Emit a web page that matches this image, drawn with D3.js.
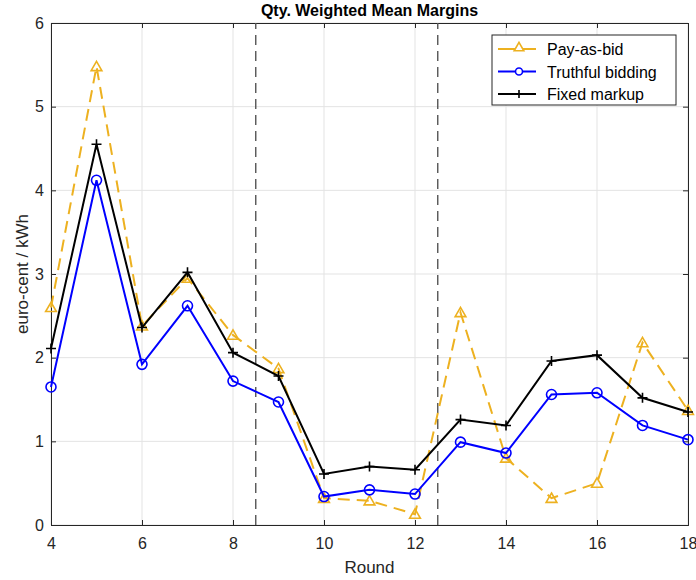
<!DOCTYPE html>
<html>
<head>
<meta charset="utf-8">
<script src="https://cdn.jsdelivr.net/npm/d3@7"></script>
<style>
  body { margin: 0; background: #fff; }
  svg { font-family: "Liberation Sans", Arial, sans-serif; }
</style>
</head>
<body>
<div id="chart"></div>
<script>
// data
var rounds = [4, 5, 6, 7, 8, 9, 10, 11, 12, 13, 14, 15, 16, 17, 18];
var payAsBid = [2.6, 5.48, 2.38, 2.95, 2.27, 1.87, 0.32, 0.29, 0.13, 2.54, 0.8, 0.32, 0.5, 2.18, 1.37];
var truthful = [1.65, 4.12, 1.92, 2.62, 1.72, 1.47, 0.34, 0.42, 0.37, 0.99, 0.86, 1.56, 1.58, 1.19, 1.02];
var fixedMarkup = [2.11, 4.55, 2.36, 3.02, 2.06, 1.78, 0.61, 0.70, 0.66, 1.26, 1.19, 1.96, 2.03, 1.52, 1.35];
var seriesNames = ["Pay-as-bid", "Truthful bidding", "Fixed markup"];
var xTicks = [4, 6, 8, 10, 12, 14, 16, 18];
var yTicks = [0, 1, 2, 3, 4, 5, 6];
var phaseBreaks = [8.5, 12.5];

var w = 696, h = 580;
var margin = { top: 23, right: 8, bottom: 55, left: 51 };

var svg = d3.select("#chart").append("svg")
  .attr("width", w)
  .attr("height", h);

var x = d3.scaleLinear().domain([4, 18]).range([margin.left, w - margin.right]);
var y = d3.scaleLinear().domain([0, 6]).range([h - margin.bottom, margin.top]);

var axisColor = "#262626";

// grid
svg.append("g").selectAll("line.gx")
  .data(xTicks).enter().append("line")
  .attr("x1", function (d) { return x(d); })
  .attr("x2", function (d) { return x(d); })
  .attr("y1", y(0)).attr("y2", y(6))
  .style("stroke", "#e3e3e3").style("stroke-width", 1);
svg.append("g").selectAll("line.gy")
  .data(yTicks).enter().append("line")
  .attr("y1", function (d) { return y(d); })
  .attr("y2", function (d) { return y(d); })
  .attr("x1", x(4)).attr("x2", x(18))
  .style("stroke", "#e3e3e3").style("stroke-width", 1);

// axes
var xAxis = svg.append("g")
  .attr("transform", "translate(0," + y(0) + ")")
  .call(d3.axisBottom(x).tickValues(xTicks).tickSize(-5).tickPadding(13).tickFormat(d3.format("d")));
var xTop = svg.append("g")
  .attr("transform", "translate(0," + y(6) + ")")
  .call(d3.axisTop(x).tickValues(xTicks).tickSize(-5).tickFormat(""));
var yAxis = svg.append("g")
  .attr("transform", "translate(" + x(4) + ",0)")
  .call(d3.axisLeft(y).tickValues(yTicks).tickSize(-5).tickPadding(7).tickFormat(d3.format("d")));
var yRight = svg.append("g")
  .attr("transform", "translate(" + x(18) + ",0)")
  .call(d3.axisRight(y).tickValues(yTicks).tickSize(-5).tickFormat(""));

[xAxis, xTop, yAxis, yRight].forEach(function (g) {
  g.select(".domain").style("stroke", axisColor).style("stroke-width", 1);
  g.selectAll(".tick line").style("stroke", axisColor);
  g.selectAll("text").style("font-size", "16px").style("fill", axisColor)
    .style("font-family", "Liberation Sans, Arial, sans-serif");
});

// phase separators
svg.append("g").selectAll("line")
  .data(phaseBreaks).enter().append("line")
  .attr("x1", function (d) { return x(d); })
  .attr("x2", function (d) { return x(d); })
  .attr("y1", y(0)).attr("y2", y(6))
  .style("stroke", "#555555")
  .style("stroke-width", 1.4)
  .style("stroke-dasharray", "10,6");

var line = d3.line()
  .x(function (d) { return x(d[0]); })
  .y(function (d) { return y(d[1]); });

function zip(vals) {
  return rounds.map(function (r, i) { return [r, vals[i]]; });
}

var orange = "#EDB120";

// Pay-as-bid
svg.append("path")
  .datum(zip(payAsBid))
  .attr("d", line)
  .style("fill", "none").style("stroke", orange)
  .style("stroke-width", 2).style("stroke-dasharray", "12,7");
var tri = d3.symbol().type(d3.symbolTriangle).size(50);
svg.append("g").selectAll("path")
  .data(zip(payAsBid)).enter().append("path")
  .attr("d", tri)
  .attr("transform", function (d) { return "translate(" + x(d[0]) + "," + (y(d[1]) + 1) + ")"; })
  .style("fill", "none").style("stroke", orange).style("stroke-width", 1.6);

// Truthful bidding
svg.append("path")
  .datum(zip(truthful))
  .attr("d", line)
  .style("fill", "none").style("stroke", "#0000ff").style("stroke-width", 2);
svg.append("g").selectAll("circle")
  .data(zip(truthful)).enter().append("circle")
  .attr("cx", function (d) { return x(d[0]); })
  .attr("cy", function (d) { return y(d[1]); })
  .attr("r", 5)
  .style("fill", "none").style("stroke", "#0000ff").style("stroke-width", 1.6);

// Fixed markup
svg.append("path")
  .datum(zip(fixedMarkup))
  .attr("d", line)
  .style("fill", "none").style("stroke", "#000").style("stroke-width", 2);
svg.append("g").selectAll("path")
  .data(zip(fixedMarkup)).enter().append("path")
  .attr("d", "M-5,0H5M0,-5V5")
  .attr("transform", function (d) { return "translate(" + x(d[0]) + "," + y(d[1]) + ")"; })
  .style("fill", "none").style("stroke", "#000").style("stroke-width", 1.6);

// title and labels
svg.append("text")
  .attr("x", (x(4) + x(18)) / 2).attr("y", 16)
  .style("text-anchor", "middle").style("font-weight", "bold")
  .style("font-size", "16px").style("fill", "#000")
  .text("Qty. Weighted Mean Margins");
svg.append("text")
  .attr("x", (x(4) + x(18)) / 2).attr("y", 573)
  .style("text-anchor", "middle").style("font-size", "17px").style("fill", axisColor)
  .text("Round");
svg.append("text")
  .attr("transform", "translate(28," + y(3) + ") rotate(-90)")
  .style("text-anchor", "middle").style("font-size", "17px").style("fill", axisColor)
  .text("euro-cent / kWh");

// legend
var lg = svg.append("g").attr("transform", "translate(492,35)");
lg.append("rect").attr("width", 184).attr("height", 70)
  .style("fill", "#fff").style("stroke", "#262626").style("stroke-width", 1);
var legendStyles = [
  { color: orange, marker: "tri" },
  { color: "#0000ff", marker: "circle" },
  { color: "#000", marker: "plus" }
];
var legTri = d3.symbol().type(d3.symbolTriangle).size(40);
seriesNames.forEach(function (name, i) {
  var cy = 14 + i * 22.5;
  var s = legendStyles[i];
  lg.append("line").attr("x1", 6).attr("x2", 44).attr("y1", cy).attr("y2", cy)
    .style("stroke", s.color).style("stroke-width", 2);
  if (s.marker === "tri") {
    lg.append("path").attr("d", legTri).attr("transform", "translate(27," + (cy - 1) + ")")
      .style("fill", "#fff").style("stroke", s.color).style("stroke-width", 1.6);
  } else if (s.marker === "circle") {
    lg.append("circle").attr("cx", 27).attr("cy", cy).attr("r", 3.5)
      .style("fill", "#fff").style("stroke", s.color).style("stroke-width", 1.6);
  } else {
    lg.append("path").attr("d", "M-4,0H4M0,-4V4").attr("transform", "translate(27," + cy + ")")
      .style("stroke", s.color).style("stroke-width", 1.6);
  }
  lg.append("text").attr("x", 55).attr("y", cy + 6)
    .style("font-size", "16px").style("fill", "#000")
    .text(name);
});
</script>
</body>
</html>
